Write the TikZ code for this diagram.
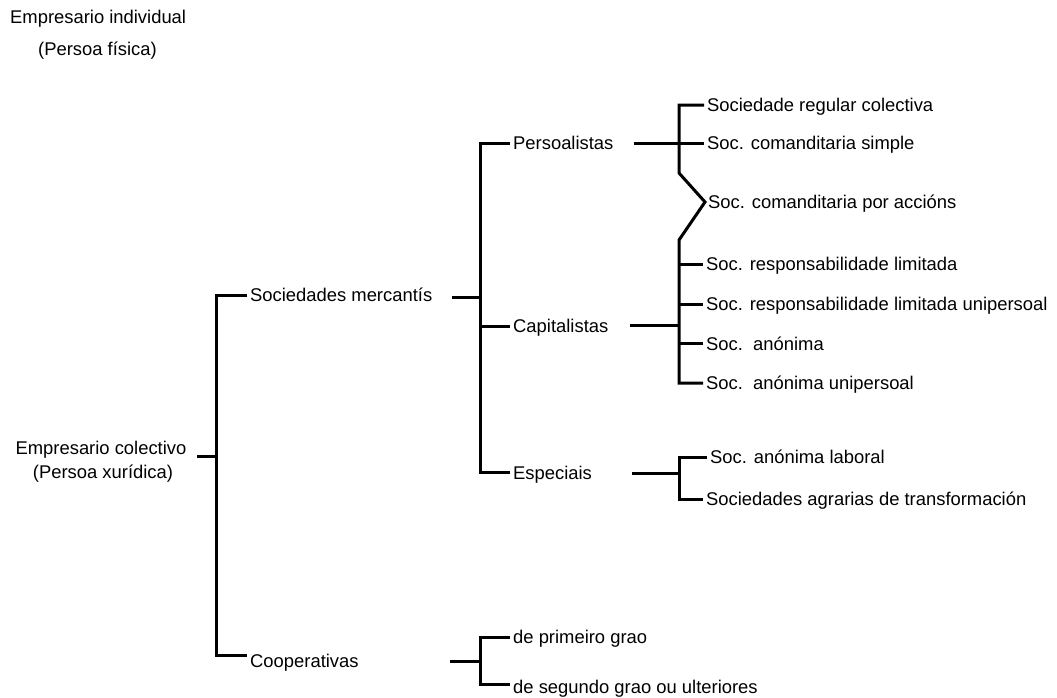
\documentclass[tikz,border=0pt]{standalone}
\usepackage{fontspec}
\setmainfont{Liberation Sans}
\begin{document}
\begin{tikzpicture}[x=1pt,y=-1pt,
  txt/.style={anchor=west, inner xsep=3pt, inner ysep=0pt, text height=13.2pt, text depth=0pt, font=\fontsize{18.4}{22}\selectfont},
  txtc/.style={txt, anchor=center, inner xsep=0pt},
  br/.style={draw=black, line width=3pt}]
\useasboundingbox (0,0) rectangle (1057,697);
% free texts
\node[txt,inner xsep=0pt] (ei) at (10,17) {Empresario individual};
\node[txt,inner xsep=0pt] (pf) at (38,48.5) {(Persoa física)};
\node[txtc] (ec) at (101,448) {Empresario colectivo};
\node[txtc] (ecb) at (103,472) {(Persoa xurídica)};
% level 1
\node[txt] (sm) at (247,295) {Sociedades mercantís};
\node[txt] (coop) at (247,661) {Cooperativas};
% level 2
\node[txt] (pe) at (510,143) {Persoalistas};
\node[txt] (ca) at (510,326) {Capitalistas};
\node[txt] (es) at (510,472.5) {Especiais};
% level 3
\node[txt] (src) at (704,105) {Sociedade regular colectiva};
\node[txt] (scs) at (704,143) {Soc. comanditaria simple};
\node[txt] (sca) at (705,202) {Soc. comanditaria por accións};
\node[txt] (srl) at (703,264) {Soc. responsabilidade limitada};
\node[txt] (srlu) at (703,304) {Soc. responsabilidade limitada unipersoal};
\node[txt] (sa) at (703,343.5) {Soc.\ \ anónima};
\node[txt] (sau) at (703,383) {Soc.\ \ anónima unipersoal};
\node[txt] (sal) at (707,457) {Soc. anónima laboral};
\node[txt] (sat) at (703,499) {Sociedades agrarias de transformación};
\node[txt] (dpg) at (510,637) {de primeiro grao};
\node[txt] (dsg) at (510,686.5) {de segundo grao ou ulteriores};
% junction points
\coordinate (ecs) at (197,456);
\coordinate (a0) at (216,456);
\coordinate (sms) at (452,297);
\coordinate (a1) at (480,297);
\coordinate (pes) at (634,143);
\coordinate (zz1) at (679,173);
\coordinate (zz2) at (679,240);
\coordinate (cas) at (630,325);
\coordinate (ess) at (632,473);
\coordinate (a3) at (679,473);
\coordinate (cos) at (450,661);
\coordinate (a4) at (480,661);
% connectors
\draw[br] (ecs) -- (a0);
\draw[br] (sm.west) -| (a0) |- ([yshift=6pt]coop.west);
\draw[br] (sms) -- (a1);
\draw[br] (pe.west) -| (a1) |- (es.west);
\draw[br] (ca.west) -- (ca.west -| a1);
\draw[br] (pes) -- (scs.west);
\draw[br] (src.west) -| (zz1) -- (sca.west) -- (zz2) |- (sau.west);
\draw[br] (srl.west) -- (srl.west -| zz2);
\draw[br] (srlu.west) -- (srlu.west -| zz2);
\draw[br] (sa.west) -- (sa.west -| zz2);
\draw[br] (cas) -- (cas -| zz2);
\draw[br] (ess) -- (a3);
\draw[br] (sal.west) -| (a3) |- (sat.west);
\draw[br] (cos) -- (a4);
\draw[br] (dpg.west) -| (a4) |- ([yshift=2pt]dsg.west);
\end{tikzpicture}
\end{document}
